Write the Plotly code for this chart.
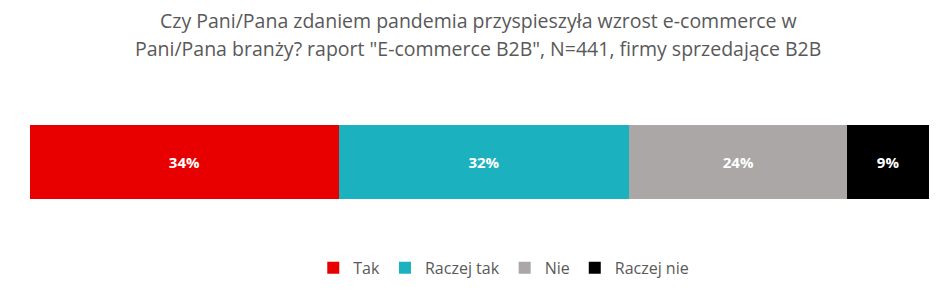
import plotly.graph_objects as go

categories = ["Tak", "Raczej tak", "Nie", "Raczej nie"]
values = [34, 32, 24, 9]
labels = ["34%", "32%", "24%", "9%"]
colors = ["#E80000", "#1BB1BE", "#AAA7A6", "#000000"]
title_lines = ["Czy Pani/Pana zdaniem pandemia przyspieszyła wzrost e-commerce w",
               "Pani/Pana branży? raport \"E-commerce B2B\", N=441, firmy sprzedające B2B"]

fig = go.Figure()
for c, v, l, col in zip(categories, values, labels, colors):
    fig.add_trace(go.Bar(
        y=[""], x=[v], name=c, orientation="h",
        marker=dict(color=col, line=dict(width=0)),
        text=[l], textposition="inside", insidetextanchor="middle",
        textfont=dict(color="white", size=15, family="Open Sans"),
        texttemplate="<b>%{text}</b>",
    ))

for line, ypx in zip(title_lines, [20, 48]):
    fig.add_annotation(
        text=line, xref="paper", yref="paper",
        x=(478 - 30) / 899, y=(216 - ypx) / 108, xanchor="center", yanchor="middle",
        showarrow=False, align="center",
        font=dict(family="Open Sans", size=19.5, color="#595959"),
    )

fig.update_layout(
    barmode="stack",
    width=945, height=308,
    margin=dict(l=30, r=16, t=108, b=92),
    paper_bgcolor="white", plot_bgcolor="white",
    bargap=0.306,
    xaxis=dict(range=[0, sum(values)], visible=False, fixedrange=True),
    yaxis=dict(visible=False),
    legend=dict(
        orientation="h", x=0.527, xanchor="center", y=-0.48, yanchor="middle",
        font=dict(family="Open Sans", size=16, color="#595959"),
        traceorder="normal",
    ),
    showlegend=True,
)
fig.write_html("out.html")
